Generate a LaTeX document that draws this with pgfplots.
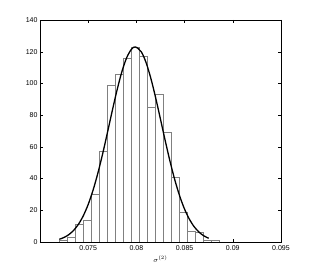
\documentclass[border=0pt]{standalone}
\usepackage{pgfplots}
\pgfplotsset{compat=1.18}
\usepackage{fontspec}
\setmainfont{Liberation Sans}
\begin{document}
\begin{tikzpicture}[x=1pt,y=1pt]
\path (-40,-31) rectangle (271,242);
\begin{axis}[
  at={(0,0)}, anchor=south west,
  scale only axis, width=241pt, height=222pt,
  xmin=0.07, xmax=0.095, ymin=0, ymax=140,
  xtick={0.075,0.08,0.085,0.09,0.095},
  ytick={0,20,...,140},
  scaled x ticks=false,
  xticklabel style={/pgf/number format/fixed,/pgf/number format/precision=3},
  /pgf/number format/assume math mode=true,
  tick label style={font=\fontsize{7}{8}\selectfont},
  tick align=inside, tick pos=both,
  major tick length=3pt,
  tick style={black, line width=0.4pt},
  axis line style={black, line width=0.6pt},
  xlabel={$\sigma^{(2)}$},
  xlabel style={font=\fontsize{7}{8}\selectfont, yshift=2pt},
  yticklabel style={xshift=1pt},
]
\addplot[ybar interval, draw=gray, fill=white, line width=0.5pt] coordinates {
(0.07195,1) (0.07278,3) (0.07361,11) (0.07444,14) (0.07527,30)
(0.07610,57) (0.07693,99) (0.07776,106) (0.07859,116) (0.07942,123)
(0.08025,117) (0.08108,85) (0.08191,93) (0.08274,69) (0.08357,41)
(0.08440,19) (0.08523,7) (0.08606,6) (0.08689,1) (0.08772,1)
(0.08855,1)
};
\addplot[black, line width=1.3pt, smooth, no marks] coordinates {
(0.0720,1.70) (0.0725,2.88) (0.0730,4.69) (0.0735,7.41) (0.0740,11.29)
(0.0745,16.65) (0.0750,23.70) (0.0755,32.60) (0.0760,43.34) (0.0765,55.65)
(0.0770,69.09) (0.0775,82.86) (0.0780,96.02) (0.0785,107.53) (0.0790,116.35)
(0.0795,121.66) (0.0799,123.0) (0.0805,120.0) (0.0810,113.20) (0.0815,103.19)
(0.0820,90.89) (0.0825,77.36) (0.0830,63.63) (0.0835,50.57) (0.0840,38.83)
(0.0845,28.82) (0.0850,20.66) (0.0855,14.32) (0.0860,9.58) (0.0865,6.20)
(0.0870,3.87) (0.0875,2.34)
};
\end{axis}
\end{tikzpicture}
\end{document}
